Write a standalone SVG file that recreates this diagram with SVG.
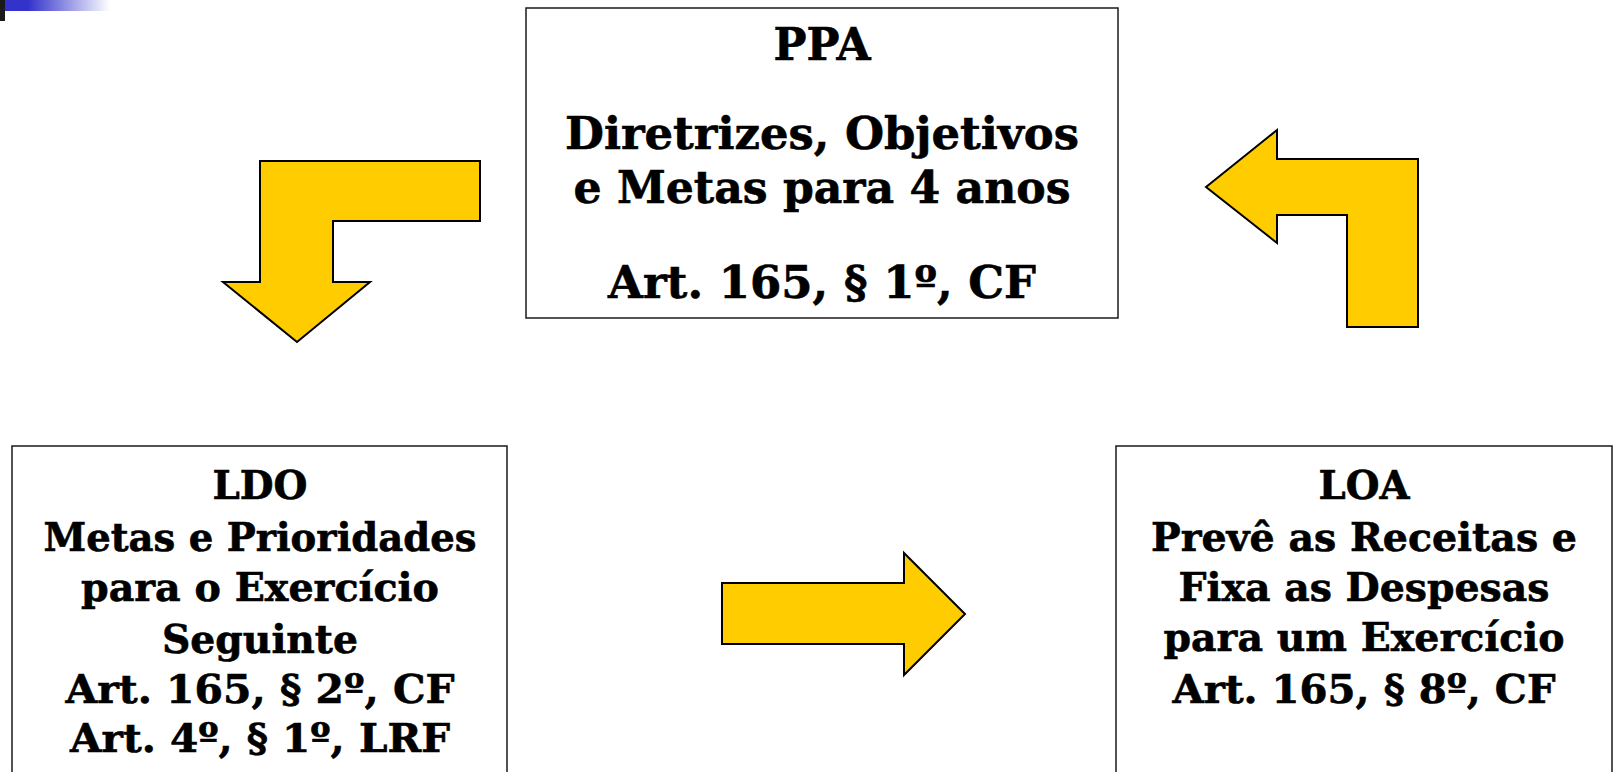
<svg xmlns="http://www.w3.org/2000/svg" width="1614" height="772" viewBox="0 0 1614 772">
<defs>
<linearGradient id="bar" x1="0" y1="0" x2="1" y2="0">
<stop offset="0" stop-color="#3333cc"/>
<stop offset="0.22" stop-color="#3333cc"/>
<stop offset="1" stop-color="#ffffff"/>
</linearGradient>
<style>
.box{fill:#ffffff;stroke:#1a1a1a;stroke-width:1.5}
.arrow{fill:#ffcc00;stroke:#000000;stroke-width:2;stroke-linejoin:miter}
.t{font-family:"DejaVu Serif","Liberation Serif",serif;font-weight:bold;font-size:39px;fill:#000000;stroke:#000000;stroke-width:0.6;text-anchor:middle}
.big{font-size:44px}
</style>
</defs>
<rect x="0" y="0" width="1614" height="772" fill="#ffffff"/>
<rect x="5" y="0" width="105" height="11" fill="url(#bar)"/>
<rect x="0" y="0" width="5" height="21" fill="#1a1a1a"/>
<g id="ppa">
<rect class="box" x="526" y="8" width="592" height="310"/>
<text class="t big" x="822" y="60" textLength="97" lengthAdjust="spacingAndGlyphs">PPA</text>
<text class="t big" x="822" y="149" textLength="514" lengthAdjust="spacingAndGlyphs">Diretrizes, Objetivos</text>
<text class="t big" x="822" y="203" textLength="497" lengthAdjust="spacingAndGlyphs">e Metas para 4 anos</text>
<text class="t big" x="822" y="298" textLength="428" lengthAdjust="spacingAndGlyphs">Art. 165, § 1º, CF</text>
</g>
<g id="ldo">
<rect class="box" x="12" y="446" width="495" height="340"/>
<text class="t" x="260" y="499" textLength="95" lengthAdjust="spacingAndGlyphs">LDO</text>
<text class="t" x="260" y="551" textLength="433" lengthAdjust="spacingAndGlyphs">Metas e Prioridades</text>
<text class="t" x="260" y="601" textLength="358" lengthAdjust="spacingAndGlyphs">para o Exercício</text>
<text class="t" x="260" y="653" textLength="196" lengthAdjust="spacingAndGlyphs">Seguinte</text>
<text class="t" x="260" y="703" textLength="389" lengthAdjust="spacingAndGlyphs">Art. 165, § 2º, CF</text>
<text class="t" x="260" y="752" textLength="380" lengthAdjust="spacingAndGlyphs">Art. 4º, § 1º, LRF</text>
</g>
<g id="loa">
<rect class="box" x="1116" y="446" width="496" height="340"/>
<text class="t" x="1364" y="499" textLength="91" lengthAdjust="spacingAndGlyphs">LOA</text>
<text class="t" x="1364" y="551" textLength="426" lengthAdjust="spacingAndGlyphs">Prevê as Receitas e</text>
<text class="t" x="1364" y="601" textLength="371" lengthAdjust="spacingAndGlyphs">Fixa as Despesas</text>
<text class="t" x="1364" y="651" textLength="401" lengthAdjust="spacingAndGlyphs">para um Exercício</text>
<text class="t" x="1364" y="703" textLength="383" lengthAdjust="spacingAndGlyphs">Art. 165, § 8º, CF</text>
</g>
<g id="connectors">
<polygon class="arrow" points="260,161 480,161 480,221 333,221 333,282 370,282 297,342 223,282 260,282"/>
<polygon class="arrow" points="1206,187 1277,130 1277,159 1418,159 1418,327 1347,327 1347,215 1277,215 1277,243"/>
<polygon class="arrow" points="722,583 904,583 904,553 965,614 904,675 904,644 722,644"/>
</g>
</svg>
